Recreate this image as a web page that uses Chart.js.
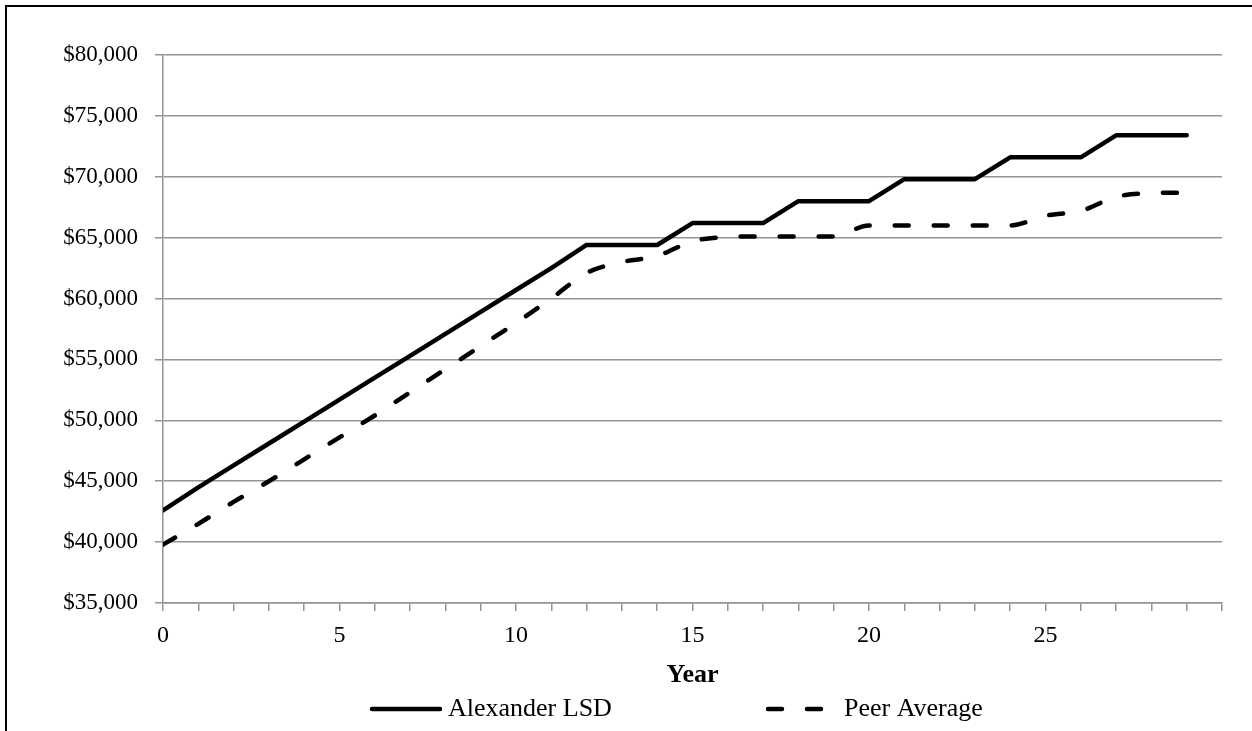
<!DOCTYPE html>
<html>
<head>
<meta charset="utf-8">
<script src="https://cdn.jsdelivr.net/npm/chart.js@4.4.1/dist/chart.umd.min.js"></script>
<style>
  body { margin: 0; background: #fff; }
  #wrap { width: 1252px; height: 731px; }
</style>
</head>
<body>
<div id="wrap"><canvas id="salaryChart"></canvas></div>
<script>
const years = [0, 1, 2, 3, 4, 5, 6, 7, 8, 9, 10, 11, 12, 13, 14, 15, 16, 17, 18, 19, 20, 21, 22, 23, 24, 25, 26, 27, 28, 29];
const alexanderLSD = [42600, 44500, 46300, 48100, 49900, 51700, 53500, 55300, 57100, 58900, 60700, 62500, 64400, 64400, 64400, 66200, 66200, 66200, 68000, 68000, 68000, 69800, 69800, 69800, 71600, 71600, 71600, 73400, 73400, 73400];
const peerAverage = [39800, 41500, 43300, 45000, 46800, 48600, 50400, 52300, 54200, 56100, 58000, 60000, 62100, 63000, 63500, 64700, 65050, 65100, 65100, 65100, 66000, 66000, 66000, 66000, 66000, 66800, 67200, 68350, 68650, 68700];
const seriesNames = ['Alexander LSD', 'Peer Average'];
const xTitle = 'Year';

const serif = "'Liberation Serif', 'Times New Roman', serif";
const gridGray = '#949494';
const dash = [14, 25];

// frame round the whole chart (right and bottom edges fall outside the picture)
const frame = {
  id: 'frame',
  afterDraw(chart) {
    const c = chart.ctx;
    c.save();
    c.strokeStyle = '#000';
    c.lineWidth = 2;
    c.strokeRect(6, 6, 2000, 2000);
    c.restore();
  }
};

// Excel-like legend with wide spacing between the two entries
const wideLegend = {
  id: 'wideLegend',
  afterDraw(chart) {
    const c = chart.ctx;
    const starts = [372, 768];
    const len = 68;
    const y = 709;
    c.save();
    c.font = '26px ' + serif;
    c.textBaseline = 'middle';
    c.fillStyle = '#000';
    chart.data.datasets.forEach((ds, i) => {
      const x = starts[i];
      c.strokeStyle = ds.borderColor;
      c.lineWidth = ds.borderWidth;
      c.lineCap = 'round';
      c.setLineDash(ds.borderDash || []);
      c.beginPath();
      c.moveTo(x, y);
      c.lineTo(x + len, y);
      c.stroke();
      c.setLineDash([]);
      c.fillText(ds.label, x + len + 8, y);
    });
    c.restore();
  }
};

const ctx = document.getElementById('salaryChart').getContext('2d');
const salaryChart = new Chart(ctx, {
  type: 'line',
  data: {
    datasets: [{
      label: seriesNames[0],
      data: years.map((yr, i) => ({x: yr, y: alexanderLSD[i]})),
      borderColor: '#000',
      borderWidth: 4.5,
      borderCapStyle: 'round',
      borderJoinStyle: 'round',
      pointRadius: 0,
      tension: 0
    }, {
      label: seriesNames[1],
      data: years.map((yr, i) => ({x: yr, y: peerAverage[i]})),
      borderColor: '#000',
      borderWidth: 4.5,
      borderDash: dash,
      borderCapStyle: 'round',
      borderJoinStyle: 'round',
      pointRadius: 0,
      cubicInterpolationMode: 'monotone'
    }]
  },
  options: {
    responsive: true,
    maintainAspectRatio: false,
    animation: false,
    layout: { padding: { left: 0, right: 30, top: 55, bottom: 40 } },
    plugins: {
      legend: { display: false },
      tooltip: { enabled: false }
    },
    scales: {
      x: {
        type: 'linear',
        min: 0,
        max: 30,
        afterFit: s => { s.height = 88; },
        ticks: {
          stepSize: 1,
          autoSkip: false,
          maxRotation: 0,
          padding: 10,
          color: '#000',
          font: { family: serif, size: 24 },
          callback: v => (v % 5 === 0 && v < 30) ? String(v) : ''
        },
        grid: { drawOnChartArea: false, tickLength: 8, color: gridGray, lineWidth: 1.5 },
        border: { color: gridGray, width: 1.5 },
        title: {
          display: true,
          text: xTitle,
          color: '#000',
          font: { family: serif, size: 26, weight: 'bold' },
          padding: { top: 0, bottom: 0 }
        }
      },
      y: {
        min: 35000,
        max: 80000,
        afterFit: s => { s.width = 163; },
        ticks: {
          stepSize: 5000,
          padding: 17,
          color: '#000',
          font: { family: serif, size: 23 },
          callback: v => '$' + v.toLocaleString('en-US')
        },
        grid: { tickLength: 8, color: gridGray, lineWidth: 1.5 },
        border: { color: gridGray, width: 1.5 }
      }
    }
  },
  plugins: [frame, wideLegend]
});
</script>
</body>
</html>
